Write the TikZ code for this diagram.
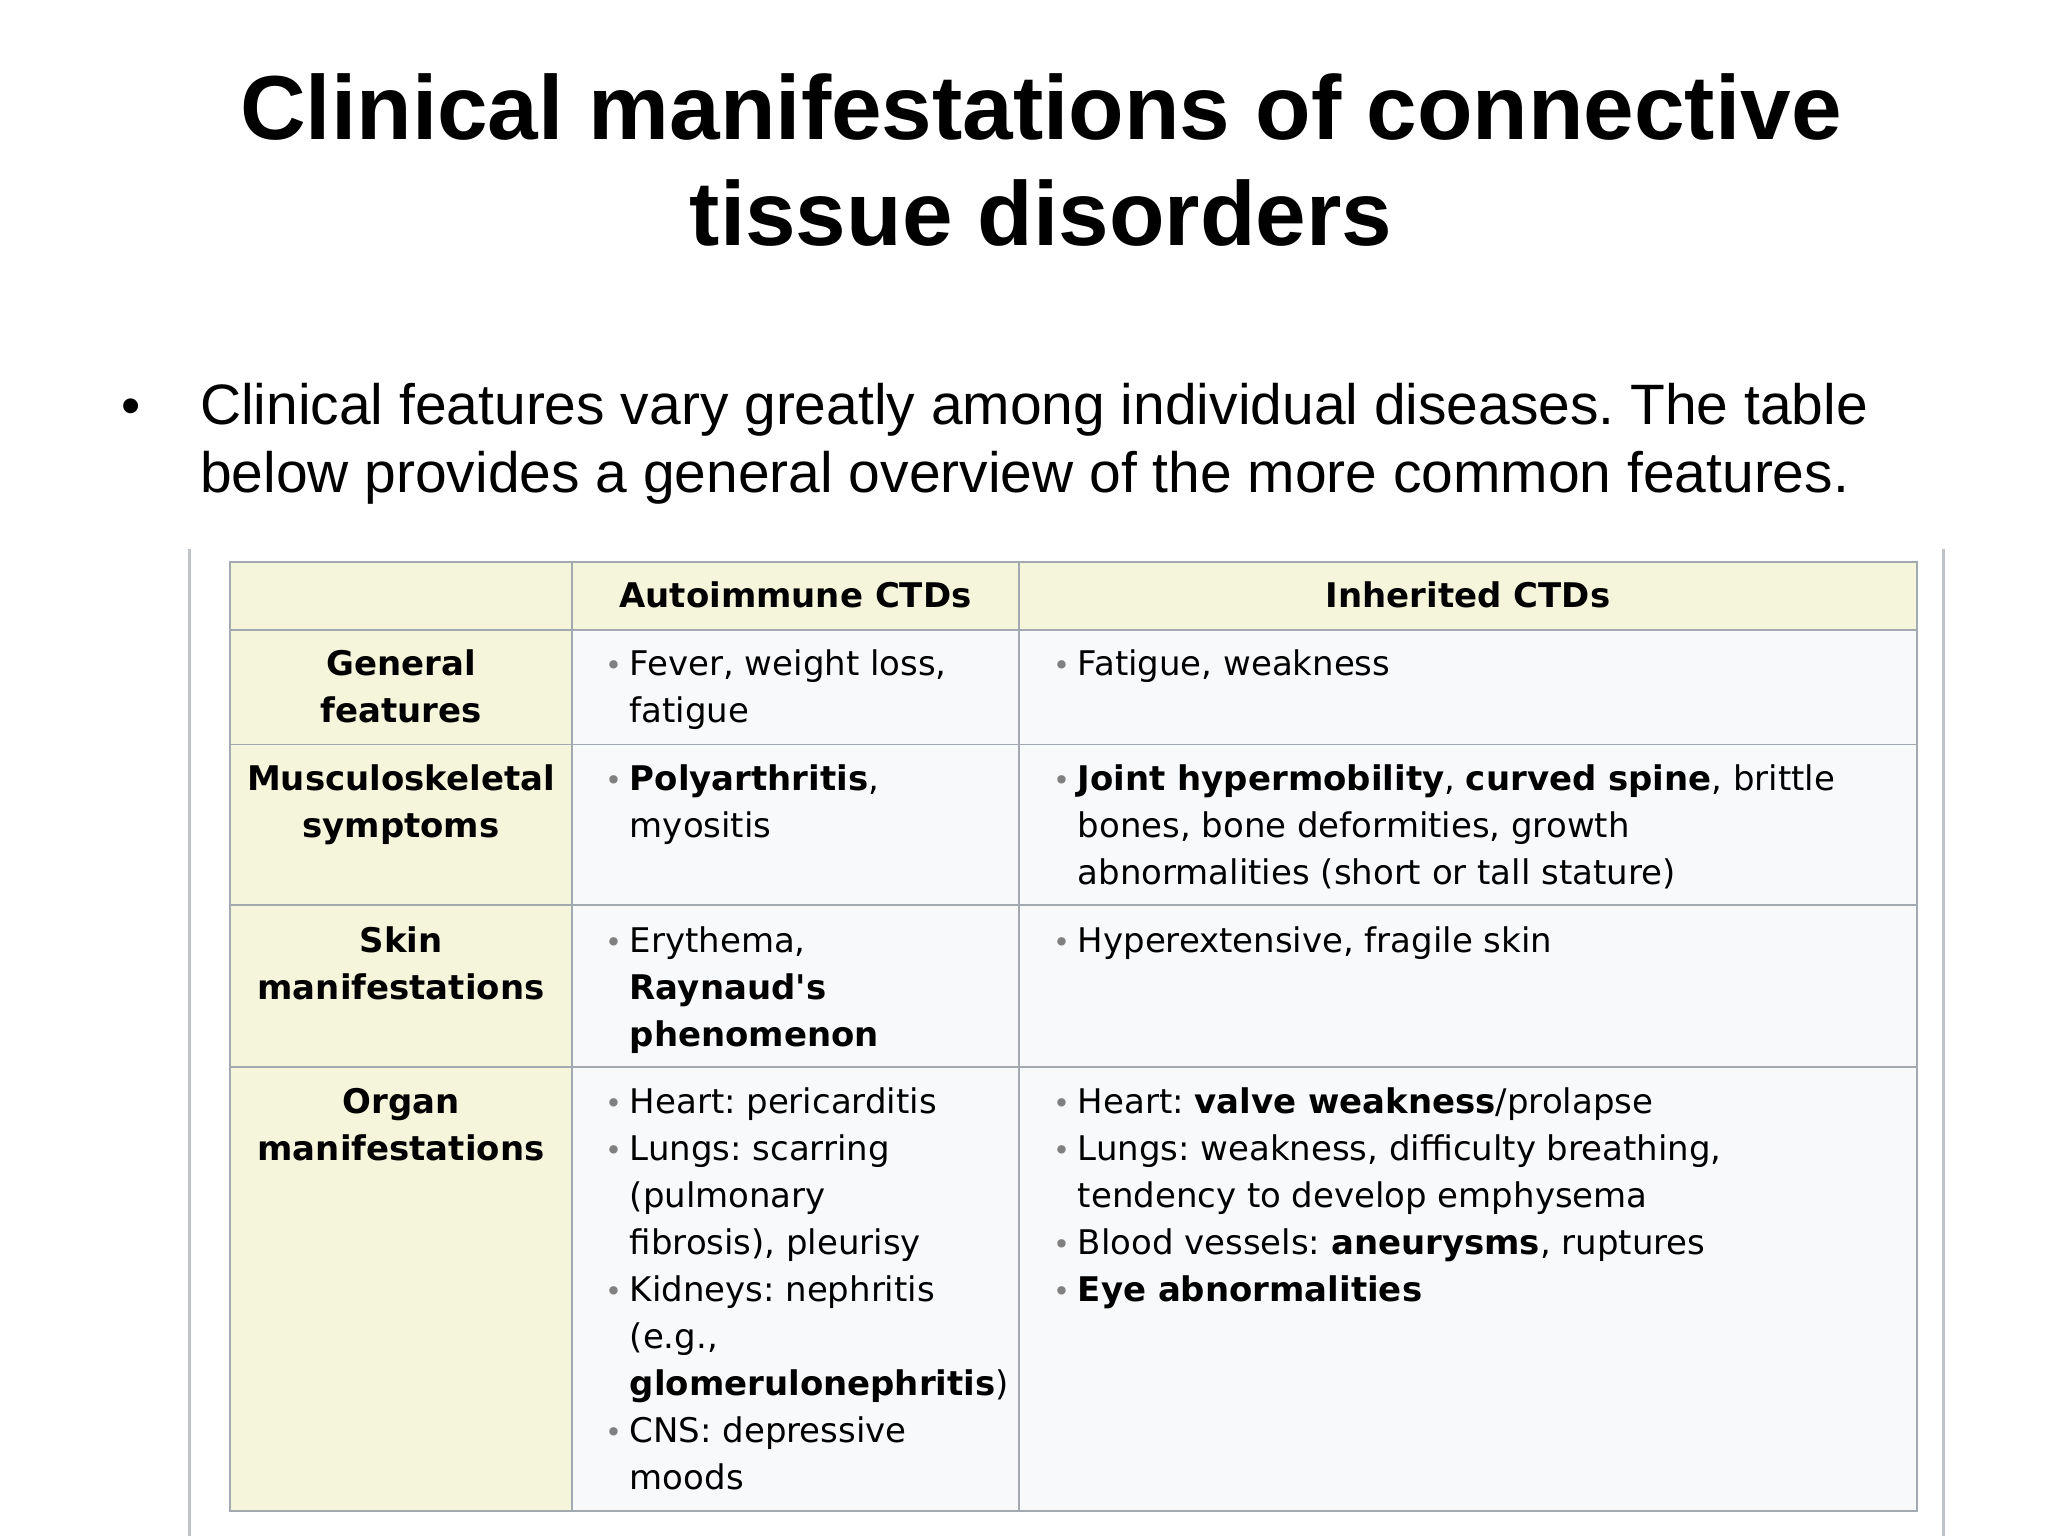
\documentclass[tikz,border=0pt]{standalone}
\usepackage{fontspec}
\setmainfont{Liberation Sans}
\newfontfamily\tfont{DejaVu Sans}
\frenchspacing
\definecolor{bd}{HTML}{A2A9B1}
\definecolor{hd}{HTML}{F5F5DC}
\definecolor{cb}{HTML}{F8F9FA}
\newcommand{\bul}{\makebox[20pt][l]{\hspace{1pt}\textcolor{gray}{\fontsize{22}{22}\selectfont •}}}
\newcommand{\nob}{\hspace*{20pt}}
\tikzset{
 cell/.style={anchor=north west,inner sep=0,align=left,font={\tfont\fontsize{26}{36}\selectfont}},
 hcell/.style={anchor=north,inner sep=0,align=center,font={\tfont\bfseries\fontsize{26}{36}\selectfont}},
 grid/.style={draw=bd,line width=1.5pt}
}
\begin{document}
\begin{tikzpicture}[x=1pt,y=-1pt]
\useasboundingbox (0,0) rectangle (1568,1176);
\fill[white] (0,0) rectangle (1568,1176);
\node[anchor=base,inner sep=0,font={\bfseries\fontsize{69.6}{80}\selectfont}] (t1) at (797,107) {Clinical manifestations of connective};
\node[anchor=base,inner sep=0,font={\bfseries\fontsize{69.6}{80}\selectfont}] (t2) at (797,188) {tissue disorders};
\node[anchor=base,inner sep=0,font=\fontsize{42}{52}\selectfont] (b) at (100,325) {•};
\node[anchor=base west,inner sep=0,font=\fontsize{43.6}{52}\selectfont] (p1) at (153,325) {Clinical features vary greatly among individual diseases. The table};
\node[anchor=base west,inner sep=0,font=\fontsize{43.6}{52}\selectfont] (p2) at (153,377) {below provides a general overview of the more common features.};
% frame
\draw[draw=bd!70,line width=2.5pt] (145,420) -- (145,1176) (1488,420) -- (1488,1176);
\fill[cb] (176,430) rectangle (1468,1157);
\fill[hd] (176,430) rectangle (1468,482);
\fill[hd] (176,482) rectangle (438,1157);
\draw[grid] (176,430) rectangle (1468,1157);
\foreach \y in {482,570,693,817} \draw[grid] (176,\y) -- (1468,\y);
\foreach \x in {438,780} \draw[grid] (\x,430) -- (\x,1157);
% header
\node[hcell] (h2) at (609,439) {\rule{0pt}{26pt}Autoimmune CTDs};
\node[hcell] (h3) at (1124,439) {\rule{0pt}{26pt}Inherited CTDs};
\node[hcell] (r1) at (307,491) {\rule{0pt}{26pt}General\\features};
\node[hcell] (r2) at (307,579) {\rule{0pt}{26pt}Musculoskeletal\\symptoms};
\node[hcell] (r3) at (307,703) {\rule{0pt}{26pt}Skin\\manifestations};
\node[hcell] (r4) at (307,826) {\rule{0pt}{26pt}Organ\\manifestations};
% col 2
\node[cell] (a1) at (462,491) {\rule{0pt}{26pt}\bul Fever, weight loss,\\\nob fatigue};
\node[cell] (a2) at (462,579) {\rule{0pt}{26pt}\bul\textbf{Polyarthritis},\\\nob myositis};
\node[cell] (a3) at (462,703) {\rule{0pt}{26pt}\bul Erythema,\\\nob\textbf{Raynaud's}\\\nob\textbf{phenomenon}};
\node[cell] (a4) at (462,826) {\rule{0pt}{26pt}\bul Heart: pericarditis\\\bul Lungs: scarring\\\nob(pulmonary\\\nob fibrosis), pleurisy\\\bul Kidneys: nephritis\\\nob(e.g.,\\\nob\textbf{glomerulonephritis})\\\bul CNS: depressive\\\nob moods};
% col 3
\node[cell] (c1) at (805,491) {\rule{0pt}{26pt}\bul Fatigue, weakness};
\node[cell] (c2) at (805,579) {\rule{0pt}{26pt}\bul\textbf{Joint hypermobility}, \textbf{curved spine}, brittle\\\nob bones, bone deformities, growth\\\nob abnormalities (short or tall stature)};
\node[cell] (c3) at (805,703) {\rule{0pt}{26pt}\bul Hyperextensive, fragile skin};
\node[cell] (c4) at (805,826) {\rule{0pt}{26pt}\bul Heart: \textbf{valve weakness}/prolapse\\\bul Lungs: weakness, difficulty breathing,\\\nob tendency to develop emphysema\\\bul Blood vessels: \textbf{aneurysms}, ruptures\\\bul\textbf{Eye abnormalities}};
\end{tikzpicture}
\end{document}
